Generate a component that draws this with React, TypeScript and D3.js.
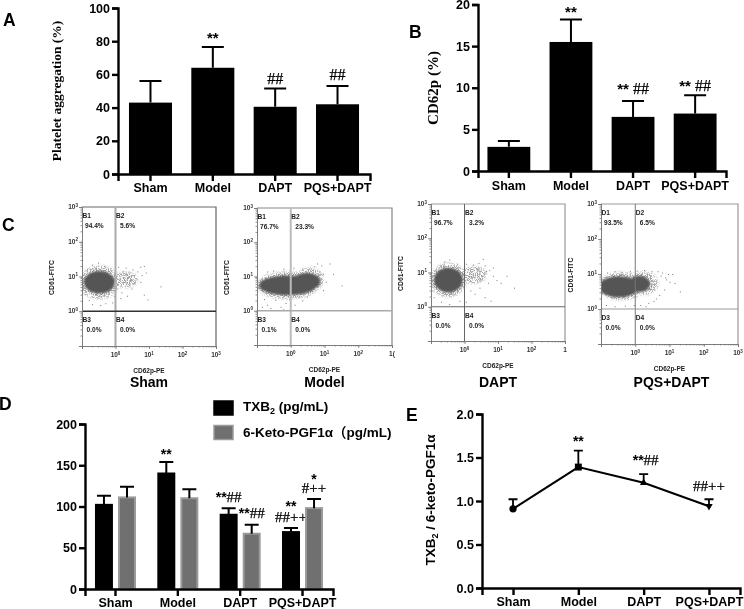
import React, { useEffect, useRef } from 'react';
import * as d3 from 'd3';

// --- data ---
const groups = ['Sham', 'Model', 'DAPT', 'PQS+DAPT'];

const aggregationMean = [43, 64, 40.5, 42];
const aggregationUpper = [56, 76.5, 51.5, 53];
const aggregationMarks = [['Model', '**', 79], ['DAPT', '##', 54], ['PQS+DAPT', '##', 56.6]];

const cd62pMean = [2.9, 15.5, 6.5, 6.9];
const cd62pUpper = [3.6, 18.2, 8.4, 9.1];
const cd62pMarks = [['Model', '**', 18.5], ['DAPT', '** ##', 9.3], ['PQS+DAPT', '** ##', 9.6]];

const txbMean = [102, 140, 90, 69];
const txbUpper = [113, 154, 98, 74];
const ketoMean = [111, 110, 67, 98];
const ketoUpper = [124, 121, 78, 109];
const txbMarks = [['Model', '**', 157], ['DAPT', '**##', 105], ['PQS+DAPT', '**', 94], ['PQS+DAPT', '##++', 81]];
const ketoMarks = [['DAPT', '**##', 86], ['PQS+DAPT', '*', 127], ['PQS+DAPT', '#++', 116]];

const ratioMean = [0.91, 1.39, 1.21, 0.94];
const ratioUpper = [1.02, 1.58, 1.31, 1.02];
const ratioMarks = [['Model', '**', 1.63], ['DAPT', '**##', 1.41], ['PQS+DAPT', '##++', 1.11]];

// flow cytometry quadrants
const quadrantNames = [
  ['B1', 'B2', 'B3', 'B4'],
  ['B1', 'B2', 'B3', 'B4'],
  ['B1', 'B2', 'B3', 'B4'],
  ['D1', 'D2', 'D3', 'D4'],
];
const quadrantPercents = [
  ['94.4%', '5.6%', '0.0%', '0.0%'],
  ['76.7%', '23.3%', '0.1%', '0.0%'],
  ['96.7%', '3.2%', '0.0%', '0.0%'],
  ['93.5%', '6.5%', '0.0%', '0.0%'],
];
const lastDecadeLabel = ['3', null, null, '3'];
const lastDecadeText = ['10', '1(', '1', '10'];

// dense part of each cloud: centre x, centre y, x factor, y factor
const shamCore = [[0.33, 6.8, 2.9, 2.1]];
const modelCore = [[3, 7.2, 2.5, 1.8], [0.81, 5.5, 7, 1.95]];
const daptCore = [[0.33, 6, 2.7, 2.3]];
const pqsCore = [[1.3, 5.2, 2.1, 1.7], [0.33, 4.3, 3.9, 2]];
// sparse fringe of each cloud, same columns
const shamFringe = [[0.33, 6.8, 3.9, 3], [2, 8.1, 2.3, 1.7]];
const modelFringe = [[0.81, 5.5, 8.4, 2.5], [3.6, 8, 2.6, 2.2]];
const daptFringe = [[0.33, 6, 3.5, 3.1], [1.9, 8.5, 2.4, 1.8]];
const pqsFringe = [[0.4, 4.5, 4.6, 2.5], [1.8, 5.4, 2.6, 2.1]];

// scattered events outside the dense part
const shamStray = [[0.2, 22], [0.3, 25], [0.45, 20], [0.7, 17], [0.14, 16], [1.2, 19], [2, 18], [3.2, 16], [4.5, 14], [5.5, 19], [7, 20], [6, 11], [8, 13], [4, 9], [5.5, 7], [3, 4.5], [7, 3], [9, 2.2], [22, 5.2], [0.16, 2.1], [0.2, 1.6], [0.35, 1.5], [0.5, 1.7], [0.8, 1.8], [1.4, 2.4], [2.2, 2.8], [0.12, 3.1], [0.12, 9], [0.11, 5], [1.5, 3.5], [2.6, 13], [1.7, 14], [3.6, 11], [0.9, 2.7]];
const modelStray = [[0.2, 1.5], [0.25, 1.2], [0.35, 2.1], [0.5, 1.3], [0.7, 1.7], [0.9, 2.2], [0.3, 1.05], [0.6, 1.1], [1.3, 1.5], [0.16, 2.2], [0.14, 1.3], [2.2, 2], [0.3, 15], [0.6, 17], [1.2, 18], [2.2, 17], [3.5, 17], [5, 20], [6, 24], [8, 21], [14, 24], [7, 14], [9, 12], [11, 7], [9, 4], [32, 5.5], [18, 12], [1.7, 2.5], [3, 2.6], [0.2, 14]];
const daptStray = [[0.25, 21], [0.35, 24], [0.2, 16], [0.6, 18], [1.1, 18], [1.8, 17], [2.6, 19], [4, 16], [5.5, 12], [7, 14], [3.5, 25], [7, 8], [9, 6], [5, 5], [2.8, 3.6], [2, 2.4], [4, 1.9], [6, 1.5], [1.1, 1.4], [0.7, 1.5], [0.35, 1.2], [0.2, 1.4], [0.12, 1.9], [0.11, 3], [12, 5], [30, 3.6], [1.5, 3], [2.6, 12], [4.4, 11], [18, 8]];
const pqsStray = [[0.15, 11], [0.25, 12], [0.4, 11.5], [0.7, 12], [1.1, 12.5], [1.8, 13], [3, 12], [4.5, 12], [6, 11], [9, 10], [12, 10], [8, 7], [10, 6], [7, 3.6], [5, 2.5], [3.4, 1.7], [2.4, 1.5], [1.4, 1.3], [0.9, 1.3], [0.5, 1.25], [0.25, 1.2], [0.14, 1.3], [5.5, 9], [7.5, 8], [14, 5.5], [20, 3.2], [4, 2], [2, 1.2]];
const flowCores = [shamCore, modelCore, daptCore, pqsCore];
const flowFringes = [shamFringe, modelFringe, daptFringe, pqsFringe];
const flowStray = [shamStray, modelStray, daptStray, pqsStray];

// --- layout ---
const serif = '"Liberation Serif", serif';
const sans = '"Liberation Sans", sans-serif';
const flowFrames = [
  { left: 82, right: 216, top: 207, bottom: 346, v: '#aaa', vw: 2, h: '#333', hw: 1.5, frame: '#666' },
  { left: 257, right: 392, top: 208, bottom: 345, v: '#bbb', vw: 2, h: '#aaa', hw: 1.5, frame: '#888' },
  { left: 431, right: 565, top: 204, bottom: 341, v: '#666', vw: 1, h: '#666', hw: 1, frame: '#999' },
  { left: 601, right: 738, top: 204, bottom: 344, v: '#777', vw: 1, h: '#999', hw: 1.2, frame: '#999' },
];

type Sel = d3.Selection<any, any, any, any>;

// writes "**##" style marks: stars in sans bold, hashes and pluses in serif
function drawMark(g: Sel, x: number, y: number, text: string, size: number) {
  const t = g.append('text').attr('x', x).attr('y', y).attr('text-anchor', 'middle').attr('fill', '#000');
  (text.match(/\*+|[^*]+/g) || []).forEach(part => {
    const stars = part[0] === '*';
    t.append('tspan')
      .attr('font-family', stars ? sans : serif)
      .attr('font-weight', stars ? 'bold' : 'normal')
      .attr('font-size', stars ? size : size + 1)
      .attr('stroke', stars ? 'none' : '#000')
      .attr('stroke-width', 0.25)
      .attr('xml:space', 'preserve')
      .text(part);
  });
}

function styleAxis(g: Sel, size: number) {
  g.selectAll('path,line').attr('stroke', '#000').attr('stroke-width', 2.4);
  g.selectAll('text').attr('font-family', sans).attr('font-weight', 'bold').attr('font-size', size).attr('fill', '#000');
}

function drawAxes(svg: Sel, x: any, y: any, labelGap: number, ticks: number[], fmt: (d: any) => string) {
  const [y0] = y.range();
  const [x0] = x.range();
  const left = svg.append('g').attr('transform', `translate(${x0},0)`)
    .call(d3.axisLeft(y).tickValues(ticks).tickSize(6).tickPadding(2).tickFormat(fmt));
  styleAxis(left, 12.5);
  const bottom = svg.append('g').attr('transform', `translate(0,${y0})`)
    .call(d3.axisBottom(x).tickSizeOuter(0).tickSize(7).tickPadding(labelGap));
  styleAxis(bottom, 12.5);
}

function singleBars(svg: Sel, x: any, y: any, mean: number[], upper: number[]) {
  const g = svg.append('g');
  g.selectAll('rect').data(groups).enter().append('rect')
    .attr('x', d => x(d))
    .attr('width', x.bandwidth())
    .attr('y', (_, i) => y(mean[i]))
    .attr('height', (_, i) => y(0) - y(mean[i]))
    .attr('fill', '#000');
  const cap = 11;
  groups.forEach((d, i) => {
    const cx = x(d) + x.bandwidth() / 2;
    g.append('path')
      .attr('d', `M${cx},${y(mean[i])}V${y(upper[i])}M${cx - cap},${y(upper[i])}H${cx + cap}`)
      .attr('stroke', '#000').attr('stroke-width', 2).attr('fill', 'none');
  });
}

function drawFlow(svg: Sel, i: number) {
  const f = flowFrames[i];
  const x = d3.scaleLog().domain([0.1, 1000]).range([f.left, f.right]);
  const y = d3.scaleLog().domain([0.1, 1000]).range([f.bottom, f.top]);
  const g = svg.append('g');

  // cloud
  const clip = `flow-clip-${i}`;
  g.append('clipPath').attr('id', clip).append('rect')
    .attr('x', f.left).attr('y', f.top).attr('width', f.right - f.left).attr('height', f.bottom - f.top);
  const cloud = g.append('g').attr('clip-path', `url(#${clip})`);
  flowStray[i].forEach(([a, b]) => {
    cloud.append('rect').attr('x', x(a)).attr('y', y(b)).attr('width', 1).attr('height', 1).attr('fill', '#777');
  });
  const blob = (parent: Sel, rows: number[][]) => rows.forEach(([cx, cy, fx, fy]) => {
    parent.append('ellipse')
      .attr('cx', x(cx)).attr('cy', y(cy))
      .attr('rx', x(cx * fx) - x(cx)).attr('ry', y(cy) - y(cy * fy))
      .attr('fill', '#555');
  });
  blob(cloud.append('g').attr('filter', 'url(#flowGrain)'), flowFringes[i]);
  blob(cloud.append('g').attr('filter', 'url(#flowBlur)'), flowCores[i]);

  // frame and gates
  g.append('path').attr('d', `M${f.left},${f.top}H${f.right}V${f.bottom}`).attr('fill', 'none').attr('stroke', f.frame).attr('stroke-width', 1.2);
  g.append('line').attr('x1', x(1)).attr('x2', x(1)).attr('y1', f.top).attr('y2', f.bottom).attr('stroke', f.v).attr('stroke-width', f.vw);
  g.append('line').attr('x1', f.left).attr('x2', f.right).attr('y1', y(1)).attr('y2', y(1)).attr('stroke', f.h).attr('stroke-width', f.hw);

  // axes: minor ticks from the log scale, decades longer
  const decades = [0.1, 1, 10, 100, 1000];
  const axisY = g.append('g').attr('transform', `translate(${f.left},0)`).call(d3.axisLeft(y).tickSize(1.5).tickFormat(() => ''));
  const axisY2 = g.append('g').attr('transform', `translate(${f.left},0)`).call(d3.axisLeft(y).tickValues(decades).tickSize(3).tickFormat(() => ''));
  const axisX = g.append('g').attr('transform', `translate(0,${f.bottom})`).call(d3.axisBottom(x).tickSize(1.5).tickFormat(() => ''));
  const axisX2 = g.append('g').attr('transform', `translate(0,${f.bottom})`).call(d3.axisBottom(x).tickValues(decades).tickSize(3).tickFormat(() => ''));
  [axisY, axisY2, axisX, axisX2].forEach(a => a.selectAll('path,line').attr('stroke', '#777').attr('stroke-width', 0.8));

  const label = (px: number, py: number, base: string, exp: string | null, anchor: string) => {
    const t = g.append('text').attr('x', px).attr('y', py).attr('text-anchor', anchor)
      .attr('font-family', sans).attr('font-size', 6.5).attr('font-weight', 'bold').attr('fill', '#333');
    t.append('tspan').text(base);
    if (exp) t.append('tspan').attr('font-size', 4.5).attr('dy', -2.5).text(exp);
  };
  [1, 10, 100, 1000].forEach((d, k) => {
    label(f.left - 4, y(d) + 2, '10', String(k), 'end');
    if (d === 1000) label(x(d), f.bottom + 11, lastDecadeText[i], lastDecadeLabel[i], 'middle');
    else label(x(d), f.bottom + 11, '10', String(k), 'middle');
  });

  // quadrant text
  const qx = [f.left + 0.5, x(1) + 0.5];
  const qy = [f.top + 11, y(1) + 11];
  quadrantNames[i].forEach((name, k) => {
    const tx = qx[k % 2];
    const ty = qy[k < 2 ? 0 : 1];
    [[name, tx, ty], [quadrantPercents[i][k], tx + (k < 2 && k % 2 === 0 ? 2.5 : 4), ty + 10]].forEach(([s, a, b]: any) => {
      g.append('text').attr('x', a).attr('y', b)
        .attr('font-family', sans).attr('font-size', 6.6).attr('font-weight', 'bold').attr('fill', '#222').text(s);
    });
  });

  // axis titles and group name
  const midY = (f.top + f.bottom) / 2;
  g.append('text').attr('transform', `translate(${f.left - 28},${midY + 1}) rotate(-90)`).attr('text-anchor', 'middle')
    .attr('font-family', sans).attr('font-size', 6.8).attr('font-weight', 'bold').attr('fill', '#222').text('CD61-FITC');
  g.append('text').attr('x', (f.left + f.right) / 2).attr('y', f.bottom + 27).attr('text-anchor', 'middle')
    .attr('font-family', sans).attr('font-size', 6.5).attr('font-weight', 'bold').attr('fill', '#222').text('CD62p-PE');
  svg.append('text').attr('x', (f.left + f.right) / 2 + (i === 3 ? 2 : 0)).attr('y', 387).attr('text-anchor', 'middle')
    .attr('font-family', sans).attr('font-size', 14).attr('font-weight', 'bold').attr('fill', '#000').text(groups[i]);
}

const App = () => {
  const svgRef = useRef<SVGSVGElement>(null);

  useEffect(() => {
    const root = d3.select(svgRef.current);
    root.selectAll('*').remove();

    const defs = root.append('defs');
    defs.append('filter').attr('id', 'flowBlur')
      .attr('x', '-20%').attr('y', '-20%').attr('width', '140%').attr('height', '140%')
      .append('feGaussianBlur').attr('stdDeviation', 0.9);
    defs.append('filter').attr('id', 'pageSoft')
      .attr('filterUnits', 'userSpaceOnUse').attr('x', 0).attr('y', 0).attr('width', 744).attr('height', 609)
      .append('feGaussianBlur').attr('stdDeviation', 0.35);

    // speckle texture for the thin edge of the clouds
    const grain = defs.append('filter').attr('id', 'flowGrain')
      .attr('x', '-20%').attr('y', '-20%').attr('width', '140%').attr('height', '140%');
    grain.append('feGaussianBlur').attr('in', 'SourceGraphic').attr('stdDeviation', 1.6).attr('result', 'soft');
    grain.append('feTurbulence').attr('type', 'fractalNoise').attr('baseFrequency', 0.85).attr('numOctaves', 2).attr('seed', 4).attr('result', 'noise');
    grain.append('feColorMatrix').attr('in', 'noise').attr('type', 'matrix')
      .attr('values', '0 0 0 0 0.35  0 0 0 0 0.35  0 0 0 0 0.35  7 0 0 0 -3.1').attr('result', 'specks');
    grain.append('feComposite').attr('in', 'specks').attr('in2', 'soft').attr('operator', 'in');

    const svg = root.append('g').attr('filter', 'url(#pageSoft)');
    svg.append('rect').attr('width', 744).attr('height', 609).attr('fill', '#fff');

    // panel letters
    [['A', 3, 26], ['B', 409, 38], ['C', 2, 231], ['D', -1, 410], ['E', 406, 421]].forEach(([s, px, py]: any) => {
      svg.append('text').attr('x', px).attr('y', py).attr('font-family', sans)
        .attr('font-size', 17.5).attr('font-weight', 'bold').attr('fill', '#000').text(s);
    });

    // A
    const xA = d3.scaleBand().domain(groups).range([118, 370]).paddingInner(0.31).paddingOuter(0.176);
    const yA = d3.scaleLinear().domain([0, 100]).range([174, 8]);
    singleBars(svg, xA, yA, aggregationMean, aggregationUpper);
    drawAxes(svg, xA, yA, 2, [0, 20, 40, 60, 80, 100], d3.format('d'));
    aggregationMarks.forEach(([c, s, v]: any) => drawMark(svg, xA(c)! + xA.bandwidth() / 2, yA(v), s, 15));
    svg.append('text').attr('transform', 'translate(61,91) rotate(-90)').attr('text-anchor', 'middle')
      .attr('font-family', serif).attr('font-weight', 'bold').attr('font-size', 13.5).text('Platelet aggregation (%)');

    // B
    const xB = d3.scaleBand().domain(groups).range([478, 726]).paddingInner(0.31).paddingOuter(0.152);
    const yB = d3.scaleLinear().domain([0, 20]).range([171, 4.5]);
    singleBars(svg, xB, yB, cd62pMean, cd62pUpper);
    drawAxes(svg, xB, yB, 3, [0, 5, 10, 15, 20], d3.format('d'));
    cd62pMarks.forEach(([c, s, v]: any) => drawMark(svg, xB(c)! + xB.bandwidth() / 2, yB(v), s, 15));
    svg.append('text').attr('transform', 'translate(438,88) rotate(-90)').attr('text-anchor', 'middle')
      .attr('font-family', serif).attr('font-weight', 'bold').attr('font-size', 15).text('CD62p (%)');

    // C
    flowFrames.forEach((_, i) => drawFlow(svg, i));

    // D
    const xD = d3.scaleBand().domain(groups).range([85, 333]).paddingInner(0.342).paddingOuter(0.16);
    const inner = d3.scaleBand().domain(['txb', 'keto']).range([0, xD.bandwidth()]).paddingInner(0.22);
    const yD = d3.scaleLinear().domain([0, 200]).range([589, 424]);
    const series = [
      { key: 'txb', mean: txbMean, upper: txbUpper, fill: '#000', stroke: '#000', marks: txbMarks },
      { key: 'keto', mean: ketoMean, upper: ketoUpper, fill: '#6f6f6f', stroke: '#9a9a9a', marks: ketoMarks },
    ];
    series.forEach(s => {
      const g = svg.append('g');
      g.selectAll('rect').data(groups).enter().append('rect')
        .attr('x', d => xD(d)! + inner(s.key)! + 1)
        .attr('width', inner.bandwidth() - 2)
        .attr('y', (_, i) => yD(s.mean[i]))
        .attr('height', (_, i) => yD(0) - yD(s.mean[i]))
        .attr('fill', s.fill).attr('stroke', s.stroke).attr('stroke-width', 2);
      groups.forEach((d, i) => {
        const cx = xD(d)! + inner(s.key)! + inner.bandwidth() / 2;
        g.append('path')
          .attr('d', `M${cx},${yD(s.mean[i])}V${yD(s.upper[i])}M${cx - 7},${yD(s.upper[i])}H${cx + 7}`)
          .attr('stroke', '#000').attr('stroke-width', 2).attr('fill', 'none');
      });
      s.marks.forEach(([c, text, v]: any) => {
        drawMark(svg, xD(c)! + inner(s.key)! + inner.bandwidth() / 2, yD(v), text, 14);
      });
    });
    drawAxes(svg, xD, yD, 2, [0, 50, 100, 150, 200], d3.format('d'));

    // legend
    const legend = svg.append('g');
    series.forEach((s, i) => {
      legend.append('rect').attr('x', 214).attr('y', 401 + i * 24.5).attr('width', 19).attr('height', 14)
        .attr('fill', s.fill).attr('stroke', s.stroke).attr('stroke-width', 1.5);
    });
    const l1 = legend.append('text').attr('x', 243).attr('y', 411).attr('font-family', sans).attr('font-weight', 'bold').attr('font-size', 13.5);
    l1.append('tspan').text('TXB');
    l1.append('tspan').attr('font-size', 9).attr('dy', 3).text('2');
    l1.append('tspan').attr('dy', -3).text(' (pg/mL)');
    legend.append('text').attr('x', 243).attr('y', 437).attr('font-family', '"Liberation Sans", "Noto Sans CJK SC", sans-serif')
      .attr('font-weight', 'bold').attr('font-size', 13.5).text('6-Keto-PGF1α（pg/mL)');

    // E
    const xE = d3.scalePoint().domain(groups).range([482, 740]).padding(0.475);
    const yE = d3.scaleLinear().domain([0, 2]).range([588, 414]);
    const line = d3.line<number>().x((_, i) => xE(groups[i])!).y(d => yE(d));
    svg.append('path').attr('d', line(ratioMean)).attr('fill', 'none').attr('stroke', '#000').attr('stroke-width', 2);
    const shapes = [d3.symbolCircle, d3.symbolSquare, d3.symbolTriangle, d3.symbolTriangle];
    groups.forEach((d, i) => {
      const cx = xE(d)!;
      svg.append('path')
        .attr('d', `M${cx},${yE(ratioMean[i])}V${yE(ratioUpper[i])}M${cx - 4.5},${yE(ratioUpper[i])}H${cx + 4.5}`)
        .attr('stroke', '#000').attr('stroke-width', 1.8).attr('fill', 'none');
      svg.append('path')
        .attr('d', d3.symbol().type(shapes[i]).size(i === 1 ? 48 : i === 0 ? 42 : 24)())
        .attr('transform', `translate(${cx},${yE(ratioMean[i])})${i === 3 ? ' rotate(180)' : ''}`)
        .attr('fill', '#000');
    });
    drawAxes(svg, xE, yE, 2, [0, 0.5, 1, 1.5, 2], d3.format('.1f'));
    ratioMarks.forEach(([c, s, v]: any) => drawMark(svg, xE(c)! + (s === '**##' ? 2 : 0), yE(v), s, 14));
    const yTitle = svg.append('text').attr('transform', 'translate(435,500) rotate(-90)').attr('text-anchor', 'middle')
      .attr('font-family', sans).attr('font-weight', 'bold').attr('font-size', 13.5);
    yTitle.append('tspan').text('TXB');
    yTitle.append('tspan').attr('font-size', 9).attr('dy', 3).text('2');
    yTitle.append('tspan').attr('dy', -3).text(' / 6-keto-PGF1α');
  }, []);

  return (
    <svg
      ref={svgRef}
      width={744}
      height={609}
      style={{ position: 'absolute', top: 0, left: 0, display: 'block', background: '#fff' }}
    />
  );
};

export default App;
